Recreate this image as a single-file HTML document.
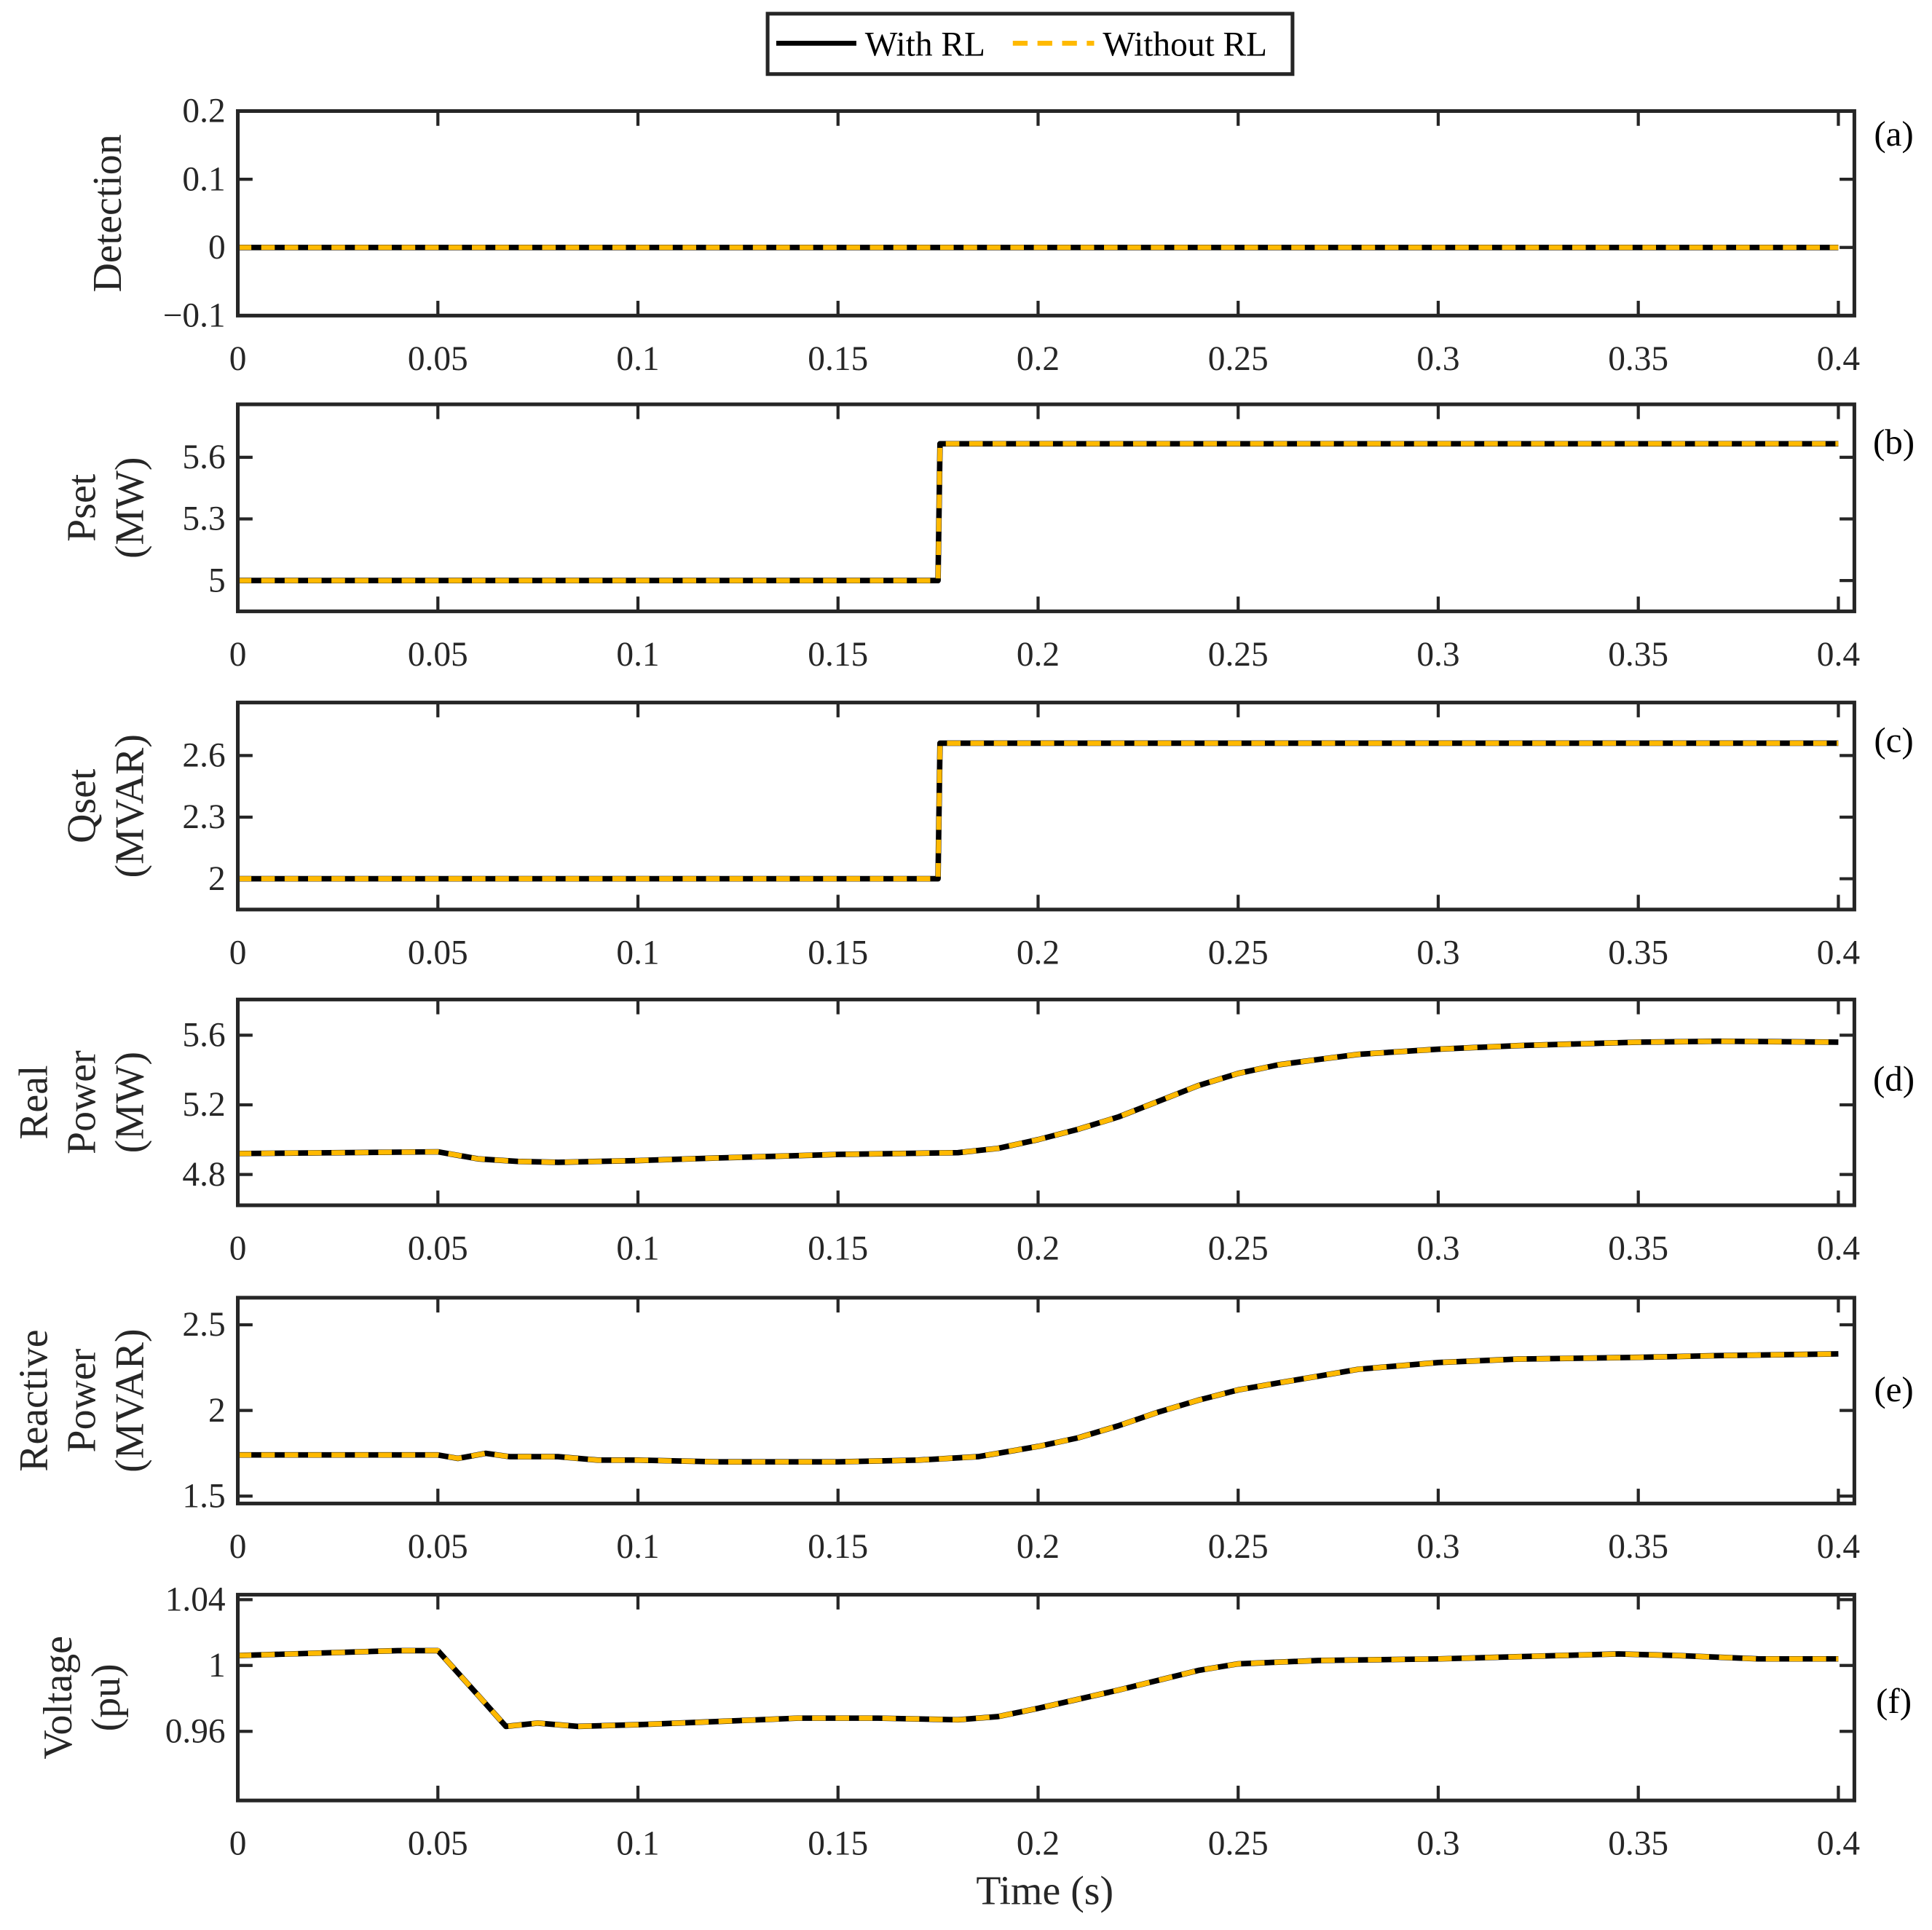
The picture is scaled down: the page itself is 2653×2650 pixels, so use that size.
<!DOCTYPE html>
<html><head><meta charset="utf-8"><style>
html,body{margin:0;padding:0;background:#fff;}
svg{display:block;font-family:"Liberation Serif",serif;}
</style></head><body>
<svg id="chart" width="2653" height="2650" viewBox="0 0 1568 1566" xmlns="http://www.w3.org/2000/svg">
<rect x="0" y="0" width="1568" height="1566" fill="#fff"/>
<g>
<rect x="623" y="11" width="426" height="49" fill="#fff" stroke="#262626" stroke-width="3"/>
<line x1="630" y1="35" x2="695" y2="35" stroke="#000" stroke-width="4"/>
<text x="702" y="45" font-size="28" fill="#000">With RL</text>
<line x1="822" y1="35" x2="888" y2="35" stroke="#FFB900" stroke-width="4" stroke-dasharray="12,8"/>
<text x="895" y="45" font-size="28" fill="#000">Without RL</text>
</g>
<g id="panels"></g>
<text x="848" y="1545" font-size="33" text-anchor="middle" fill="#262626">Time (s)</text>
</svg>
<script>
const xTicks = [0,0.05,0.1,0.15,0.2,0.25,0.3,0.35,0.4];
const xTickLabels = ["0","0.05","0.1","0.15","0.2","0.25","0.3","0.35","0.4"];

const detT = [0,0.4];
const detV = [0,0];
const psetT = [0,0.175,0.1755,0.4];
const psetV = [5,5,5.666,5.666];
const qsetT = [0,0.175,0.1755,0.4];
const qsetV = [2,2,2.66,2.66];
const pT = [0,0.05,0.06,0.07,0.08,0.09,0.1,0.12,0.15,0.18,0.19,0.2,0.21,0.22,0.23,0.24,0.25,0.26,0.27,0.28,0.3,0.32,0.35,0.37,0.4];
const pV = [4.92,4.93,4.89,4.875,4.87,4.875,4.88,4.895,4.915,4.925,4.95,5.0,5.06,5.13,5.22,5.31,5.38,5.43,5.46,5.49,5.52,5.54,5.56,5.565,5.56];
const qT = [0,0.05,0.055,0.062,0.068,0.08,0.09,0.1,0.12,0.15,0.17,0.185,0.2,0.21,0.22,0.23,0.24,0.25,0.26,0.27,0.28,0.29,0.3,0.32,0.35,0.37,0.4];
const qV = [1.74,1.74,1.72,1.75,1.73,1.73,1.71,1.71,1.70,1.70,1.71,1.73,1.79,1.84,1.91,1.99,2.06,2.12,2.16,2.20,2.24,2.26,2.28,2.30,2.31,2.32,2.33];
const vT = [0,0.04,0.05,0.06,0.067,0.075,0.085,0.1,0.12,0.14,0.16,0.18,0.19,0.2,0.22,0.24,0.25,0.27,0.3,0.33,0.345,0.36,0.38,0.4];
const vV = [1.006,1.009,1.009,0.982,0.963,0.965,0.963,0.964,0.966,0.968,0.968,0.967,0.969,0.974,0.985,0.997,1.001,1.003,1.004,1.006,1.007,1.006,1.004,1.004];

const panels = [
 {name:'detection', top:90, bot:256, ymin:-0.1, ymax:0.2, yt:[-0.1,0,0.1,0.2], ytl:["\u22120.1","0","0.1","0.2"], lab:["Detection"], lx:98, tag:"(a)", ty:28, t:detT, v:detV},
 {name:'pset', top:328, bot:496, ymin:4.85, ymax:5.858, yt:[5,5.3,5.6], ytl:["5","5.3","5.6"], lab:["Pset","(MW)"], lx:77, tag:"(b)", ty:40, t:psetT, v:psetV},
 {name:'qset', top:570, bot:738, ymin:1.85, ymax:2.858, yt:[2,2.3,2.6], ytl:["2","2.3","2.6"], lab:["Qset","(MVAR)"], lx:77, tag:"(c)", ty:40, t:qsetT, v:qsetV},
 {name:'real-power', top:811, bot:978, ymin:4.623, ymax:5.805, yt:[4.8,5.2,5.6], ytl:["4.8","5.2","5.6"], lab:["Real","Power","(MW)"], lx:38, tag:"(d)", ty:74, t:pT, v:pV},
 {name:'reactive-power', top:1053, bot:1220, ymin:1.457, ymax:2.658, yt:[1.5,2,2.5], ytl:["1.5","2","2.5"], lab:["Reactive","Power","(MVAR)"], lx:38, tag:"(e)", ty:84, t:qT, v:qV},
 {name:'voltage', top:1294, bot:1461, ymin:0.918, ymax:1.043, yt:[0.96,1,1.04], ytl:["0.96","1","1.04"], lab:["Voltage","(pu)"], lx:58, tag:"(f)", ty:96, t:vT, v:vV}
];
const NS="http://www.w3.org/2000/svg";
const L=193, R=1505;
const xs = t => 193 + t/0.4*(1492-193);
function mk(tag, attrs, parent){const e=document.createElementNS(NS,tag);for(const k in attrs)e.setAttribute(k,attrs[k]);parent.appendChild(e);return e;}
const root=document.getElementById('panels');
panels.forEach(p=>{
 const g=mk('g',{},root);
 
 
 const ys = v => p.bot - (v-p.ymin)/(p.ymax-p.ymin)*(p.bot-p.top);
 xTicks.forEach((t,i)=>{
  const x=xs(t);
  mk('line',{x1:x,y1:p.bot,x2:x,y2:p.bot-12,stroke:'#262626','stroke-width':2.5},g);
  mk('line',{x1:x,y1:p.top,x2:x,y2:p.top+12,stroke:'#262626','stroke-width':2.5},g);
  const tx=mk('text',{x:x,y:p.bot+44,'font-size':28,'text-anchor':'middle',fill:'#262626'},g);
  tx.textContent=xTickLabels[i];
  
  
 });
 p.yt.forEach((v,i)=>{
  const y=ys(v);
  mk('line',{x1:L,y1:y,x2:L+12,y2:y,stroke:'#262626','stroke-width':2.5},g);
  mk('line',{x1:R,y1:y,x2:R-12,y2:y,stroke:'#262626','stroke-width':2.5},g);
  const tx=mk('text',{x:L-10,y:y+9,'font-size':28,'text-anchor':'end',fill:'#262626'},g);
  tx.textContent=p.ytl[i];
  
  
 });
 const cy=(p.top+p.bot)/2, lh=39;
 const yl=mk('text',{transform:`translate(${p.lx},${cy}) rotate(-90)`,'font-size':33,'text-anchor':'middle',fill:'#262626'},g);
 
 
 p.lab.forEach((s,i)=>{const ts=mk('tspan',{x:0,dy:i===0?0:lh},yl);ts.textContent=s;});
 const tg=mk('text',{x:1537,y:p.top+p.ty,'font-size':29,'text-anchor':'middle',fill:'#000'},g);
 tg.textContent=p.tag;
 
 
 const d=p.t.map((t,i)=>(i?'L':'M')+xs(t).toFixed(1)+','+ys(p.v[i]).toFixed(1)).join(' ');
 const s1=mk('path',{d:d,fill:'none',stroke:'#000','stroke-width':4.5,'stroke-linejoin':'round'},g);
 
 
 const s2=mk('path',{d:d,fill:'none',stroke:'#FFB900','stroke-width':4,'stroke-dasharray':'11,8'},g);
 
 
 mk('rect',{x:L,y:p.top,width:R-L,height:p.bot-p.top,fill:'none',stroke:'#262626','stroke-width':3},g);
});
</script>
</body></html>
